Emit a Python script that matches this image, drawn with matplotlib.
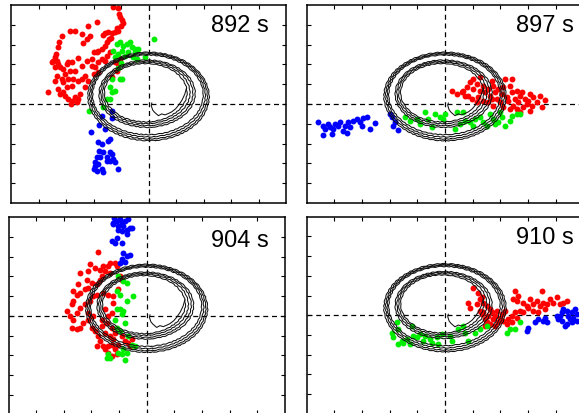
import numpy as np
import matplotlib.pyplot as plt
from matplotlib.patches import Ellipse

plt.rcParams['font.family'] = ['Liberation Sans', 'DejaVu Sans']

# snapshot times (s)
times = [892, 897, 904, 910]

# limit-cycle trajectory, one ellipse per loop: centre, width, height, tilt (deg)
loop_cx = [0.00, 0.00, -0.01, -0.02, -0.05, -0.06, -0.08, -0.10]
loop_cy = [0.38, 0.40, 0.43, 0.46, 0.52, 0.54, 0.56, 0.57]
loop_w = [4.41, 4.28, 4.15, 4.02, 3.50, 3.35, 3.18, 3.00]
loop_h = [4.47, 4.33, 4.18, 4.02, 3.40, 3.26, 3.10, 2.95]
loop_ang = [7, 6, 6, 5, 7, 7, 8, 9]
# first stretch of the trajectory, near the origin, running into the inner loop
start_x = [0.12, 0.10, 0.15, 0.22, 0.36, 0.48, 0.60, 0.72, 0.84, 0.98, 1.10, 1.22, 1.32, 1.38]
start_y = [0.05, -0.08, -0.30, -0.42, -0.59, -0.50, -0.55, -0.48, -0.40, -0.25, -0.05, 0.20, 0.50, 0.80]

# 892 s
red_892 = [(-1.30, 4.88), (-1.10, 4.85), (-1.07, 4.55), (-1.04, 4.38), (-0.95, 4.26), (-0.92, 4.09),
           (-1.00, 3.92), (-1.10, 3.70), (-1.16, 3.82), (-1.22, 3.62), (-1.34, 3.59), (-1.46, 3.62),
           (-1.58, 3.57), (-1.64, 3.48), (-1.36, 3.32), (-1.44, 3.28), (-1.52, 3.11), (-1.58, 2.95),
           (-1.70, 2.78), (-1.82, 2.69), (-1.88, 2.61), (-2.00, 2.61), (-2.19, 3.96), (-1.88, 4.16),
           (-2.13, 3.45), (-2.25, 3.28), (-2.37, 3.06), (-2.43, 3.54), (-2.67, 3.70), (-2.85, 3.67),
           (-3.16, 3.45), (-3.25, 3.11), (-3.30, 2.86), (-3.38, 2.53), (-3.40, 2.36), (-3.46, 2.19),
           (-3.52, 2.10), (-3.34, 2.19), (-3.28, 2.02), (-3.40, 1.85), (-3.22, 1.85), (-3.10, 1.77),
           (-2.98, 2.02), (-2.92, 2.14), (-2.79, 2.10), (-2.55, 2.31), (-2.43, 1.94), (-2.67, 1.68),
           (-2.85, 1.68), (-3.04, 1.52), (-3.16, 1.26), (-3.34, 1.43), (-3.40, 1.18), (-3.10, 1.09),
           (-2.92, 1.26), (-2.73, 1.26), (-2.58, 1.18), (-2.79, 0.93), (-2.98, 0.84), (-3.10, 0.59),
           (-3.22, 0.51), (-3.28, 0.76), (-3.64, 0.59), (-3.04, 0.42), (-2.92, 0.25), (-2.79, 0.17),
           (-2.67, 0.34), (-2.55, 0.25), (-2.49, 0.51), (-2.31, 0.84), (-2.19, 1.18), (-2.31, 1.43),
           (-2.00, 1.52), (-1.94, 1.85), (-2.07, 1.94), (-1.82, 2.10), (-1.70, 2.27), (-1.52, 2.44),
           (-1.40, 2.61), (-1.58, 2.19), (-1.82, 1.60), (-1.22, 2.10), (-1.16, 1.68), (-1.34, 1.35),
           (-1.10, 2.02), (-1.04, 2.27), (-2.07, 2.27), (-2.25, 2.19), (-2.43, 1.26), (-2.82, 0.00),
           (-2.60, 0.10)]
green_892 = [(0.21, 3.28), (-1.16, 3.03), (-1.04, 3.11), (-0.92, 2.95), (-0.79, 3.03), (-0.67, 3.11),
             (-0.61, 2.86), (-0.49, 2.78), (-0.73, 2.61), (-0.85, 2.44), (-0.98, 2.69), (-1.10, 2.53),
             (-0.55, 2.36), (-0.43, 2.27), (-1.28, 2.69), (-1.22, 2.36), (-0.98, 1.26), (-1.40, 0.84),
             (-1.34, 0.59), (-1.40, 0.25), (-1.04, 1.26), (-1.22, 0.67), (-1.52, 0.25), (-2.15, -0.34),
             (-1.64, -0.17), (-1.34, 1.26), (-0.37, 2.78), (-0.13, 2.36), (-0.49, 2.61), (-1.10, 1.80),
             (-1.00, 2.05)]
blue_892 = [(-1.34, -0.72), (-1.79, -1.06), (-1.58, -1.26), (-2.09, -1.43), (-1.82, -1.94), (-1.70, -2.02),
            (-1.46, -1.85), (-1.40, -1.77), (-1.79, -2.36), (-1.64, -2.44), (-1.40, -2.41), (-1.34, -2.53),
            (-1.52, -2.69), (-1.76, -2.69), (-1.88, -2.69), (-1.95, -2.95), (-1.82, -3.03), (-1.52, -2.86),
            (-1.40, -2.86), (-1.28, -2.78), (-1.22, -2.95), (-2.00, -3.28), (-1.88, -3.37), (-1.70, -3.28),
            (-1.64, -3.45), (-1.10, -3.28), (-1.95, -3.11), (-1.34, -0.34), (-1.70, -0.59)]

# 897 s
red_897 = [(0.24, 0.67), (0.42, 0.51), (0.60, 0.59), (0.78, 0.84), (0.84, 0.42), (0.90, 1.09),
           (1.02, 0.76), (1.14, 1.01), (1.20, 0.34), (1.26, 0.67), (1.38, 0.93), (1.44, 0.59),
           (1.56, 0.76), (1.62, 0.42), (1.68, 1.18), (1.74, 0.93), (1.81, 0.59), (1.87, 0.25),
           (1.93, 0.76), (1.99, 0.08), (2.05, 0.51), (2.11, 0.84), (2.23, 0.34), (2.29, 0.17),
           (2.35, 0.93), (2.41, 0.59), (2.47, -0.08), (2.53, 0.25), (2.59, 0.67), (2.65, 0.08),
           (2.71, 0.42), (2.77, 0.59), (2.83, -0.17), (2.89, 0.25), (2.95, 0.00), (3.01, 0.17),
           (3.07, 0.51), (3.13, -0.08), (3.19, 0.34), (3.31, 0.08), (3.43, 0.42), (3.49, -0.17),
           (3.61, 0.20), (0.72, 0.42), (0.96, 0.25), (1.14, 0.08), (1.38, 0.17), (1.56, 0.08),
           (1.74, -0.08), (2.11, -0.17), (2.35, -0.25), (2.59, -0.25), (2.71, -0.42), (3.07, -0.34),
           (2.41, 1.26), (2.17, 1.26), (1.02, 1.26), (1.26, 1.35), (0.66, 0.67), (1.68, 0.25)]
green_897 = [(-1.44, -0.67), (-1.26, -0.84), (-0.90, -1.01), (-0.72, -0.42), (-0.48, -1.18), (-0.36, -0.51),
             (-0.18, -0.67), (0.00, -0.51), (0.36, -1.26), (0.42, -0.42), (0.66, -0.42), (0.72, -0.84),
             (0.90, -0.93), (1.08, -0.76), (1.26, -0.67), (1.38, -0.93), (1.62, -0.51), (1.81, -1.01),
             (1.93, -0.93), (1.99, -0.42), (2.17, -1.09), (2.35, -0.84), (2.41, -0.59), (2.59, -0.51),
             (2.71, -0.51), (-1.02, -0.76), (-0.60, -0.76), (-0.06, -0.76), (0.54, -1.01), (1.50, -1.09),
             (1.74, -0.76), (2.05, -0.67), (1.02, -1.09)]
blue_897 = [(-4.57, -0.93), (-4.39, -1.09), (-4.33, -1.26), (-4.21, -1.01), (-4.15, -1.18), (-4.03, -1.26),
            (-3.97, -1.01), (-3.85, -1.09), (-3.79, -0.93), (-3.67, -1.35), (-3.61, -1.09), (-3.49, -0.93),
            (-3.43, -1.18), (-3.31, -0.84), (-3.19, -0.76), (-3.07, -0.93), (-3.01, -1.09), (-2.95, -0.72),
            (-2.83, -0.67), (-2.71, -1.26), (-2.53, -0.96), (-4.09, -1.52), (-4.39, -1.57), (-3.55, -1.46),
            (-1.99, -0.51), (-1.93, -0.67), (-1.81, -0.93), (-1.68, -1.30), (-1.87, -1.09)]

# 904 s
red_904 = [(-1.75, 3.23), (-2.05, 2.61), (-2.42, 2.18), (-2.11, 2.27), (-1.87, 2.44), (-1.69, 2.35),
           (-1.57, 2.52), (-1.51, 2.27), (-1.39, 2.52), (-1.33, 2.69), (-1.15, 2.69), (-1.09, 2.52),
           (-2.17, 1.84), (-2.48, 1.59), (-2.66, 1.25), (-2.54, 1.08), (-2.42, 1.17), (-2.23, 1.34),
           (-2.11, 1.42), (-1.99, 1.68), (-1.81, 1.59), (-1.69, 1.84), (-1.63, 2.01), (-1.33, 2.18),
           (-2.66, 0.74), (-2.72, 0.58), (-2.90, 0.24), (-2.78, -0.02), (-2.66, -0.19), (-2.54, 0.15),
           (-2.42, 0.41), (-2.23, 0.58), (-2.05, 0.74), (-1.93, 1.00), (-1.81, 1.08), (-1.57, 1.17),
           (-1.39, 1.08), (-1.21, 1.00), (-2.29, -0.36), (-2.42, -0.61), (-2.54, -0.69), (-2.72, -0.61),
           (-2.11, -0.19), (-1.99, -0.61), (-1.87, -0.78), (-1.75, -1.03), (-1.69, -1.29), (-1.81, -1.54),
           (-1.57, -1.54), (-1.51, -1.71), (-1.39, -1.54), (-1.27, -1.46), (-1.15, -1.71), (-1.03, -1.46),
           (-1.21, -1.20), (-1.33, -1.03), (-1.51, -0.86), (-1.63, -0.52), (-1.45, -0.36), (-1.27, -0.61),
           (-1.15, -0.86), (-0.91, -1.03), (-0.79, -1.29), (-0.66, -1.37), (-0.60, -1.54), (-0.54, -1.20),
           (-1.39, -1.88), (-1.27, -2.05), (-1.09, -1.96), (-1.63, -0.19), (-1.39, -0.02), (-1.27, 0.15),
           (-1.51, 0.32), (-1.03, 1.34), (-1.21, 0.66), (-0.97, 2.01), (-0.91, 1.84), (-1.93, -0.02),
           (-2.11, 0.15)]
green_904 = [(-1.03, 2.01), (-0.85, 1.76), (-0.72, 1.68), (-1.09, 1.25), (-0.97, 1.08), (-0.72, 0.74),
             (-0.48, 1.00), (-1.09, 0.32), (-0.97, 0.32), (-0.85, 0.24), (-0.91, 0.07), (-1.15, -0.19),
             (-1.09, -0.61), (-0.97, -0.78), (-0.79, -0.36), (-0.66, -1.03), (-0.54, -1.46), (-1.03, -1.88),
             (-0.91, -1.96), (-0.72, -1.88), (-1.39, -1.96), (-1.45, -2.13), (-1.33, -2.13), (-0.79, -2.22),
             (-0.42, -1.54), (-0.85, -1.71)]
blue_904 = [(-1.17, 4.97), (-1.09, 4.81), (-1.21, 4.64), (-1.03, 4.55), (-0.91, 4.72), (-0.79, 4.81),
            (-0.66, 4.89), (-0.54, 4.47), (-0.72, 4.38), (-0.85, 4.55), (-0.91, 4.30), (-1.03, 4.38),
            (-0.72, 4.13), (-0.60, 4.47), (-1.09, 3.96), (-1.27, 3.79), (-1.15, 3.71), (-0.91, 3.71),
            (-0.85, 3.20), (-0.72, 3.03), (-0.60, 3.11), (-0.91, 2.86), (-0.97, 2.69), (-0.79, 2.72),
            (-1.21, 4.72), (-0.97, 4.89)]

# 910 s
red_910 = [(1.02, 1.40), (1.20, 1.15), (1.32, 0.90), (0.84, 0.64), (0.90, 0.39), (1.14, 0.56),
           (1.26, 0.81), (1.38, 0.64), (1.50, 0.47), (1.62, 0.30), (1.56, -0.03), (1.44, -0.20),
           (1.50, -0.37), (1.68, 0.14), (1.74, -0.20), (1.81, -0.03), (1.87, 0.22), (1.93, -0.37),
           (1.99, -0.12), (2.05, 0.05), (2.11, -0.29), (1.38, 0.14), (1.26, 0.22), (1.32, 0.05),
           (1.62, -0.46), (1.81, -0.54), (1.44, -0.54), (2.53, 1.24), (2.65, 0.98), (2.47, 0.81),
           (2.59, 0.73), (2.83, 0.64), (2.95, 0.47), (3.07, 0.81), (3.19, 0.56), (3.31, 0.73),
           (3.43, 0.47), (3.49, 1.24), (3.61, 0.30), (3.67, 0.56), (3.79, 0.81), (3.91, 0.64),
           (4.03, 0.90), (4.15, 0.56), (4.27, 0.64), (4.39, 0.73), (2.71, 0.22), (2.53, 0.14),
           (2.41, -0.03), (2.83, 0.14), (3.01, 0.39), (3.19, 0.22), (3.37, 0.14), (3.55, 0.64),
           (2.23, -0.46), (2.41, -0.37), (2.59, -0.12), (2.17, 0.22), (2.29, -0.20)]
green_910 = [(-1.93, -0.88), (-1.87, -1.13), (-1.74, -0.37), (-1.68, -0.71), (-1.56, -1.30), (-1.50, -1.39),
             (-1.38, -1.22), (-1.20, -0.54), (-1.14, -1.05), (-1.02, -1.13), (-0.90, -0.96), (-0.78, -1.30),
             (-0.72, -1.05), (-0.54, -1.22), (-0.48, -1.39), (-0.30, -1.13), (-0.12, -0.96), (0.18, -1.05),
             (0.24, -1.30), (0.48, -0.71), (0.72, -0.88), (0.84, -1.30), (1.08, -0.88), (1.26, -0.71),
             (1.50, -0.54), (2.35, -0.71), (2.53, -0.71), (2.71, -0.37), (2.23, -0.88), (-1.68, -1.47),
             (-1.26, -1.47), (-0.24, -1.47), (0.66, -0.54)]
blue_910 = [(2.95, -0.80), (3.01, -0.63), (3.25, -0.37), (3.37, -0.20), (3.55, -0.29), (3.61, -0.12),
            (3.67, -0.37), (4.03, -0.03), (4.09, -0.20), (4.21, 0.14), (4.27, 0.30), (4.39, 0.22),
            (4.45, -0.03), (4.51, -0.20), (4.57, 0.14), (4.63, -0.12), (4.75, 0.05), (4.75, -0.29),
            (4.39, -0.46), (4.21, -0.29), (4.33, -0.54), (4.69, 0.30), (4.57, -0.37), (4.15, -0.03)]

reds = [red_892, red_897, red_904, red_910]
greens = [green_892, green_897, green_904, green_910]
blues = [blue_892, blue_897, blue_904, blue_910]

# label anchor per panel (data coords, left/baseline)
label_x = [2.27, 2.56, 2.33, 2.56]
label_y = [3.70, 3.70, 3.52, 3.69]

W, H = 579, 414
fig = plt.figure(figsize=(W / 100, H / 100), dpi=100)
# panel boxes in pixels: left, top, width, height
boxes = [(11, 6, 275, 198), (306.5, 6, 277, 198),
         (8.7, 218.3, 276, 197), (306.5, 217.7, 277, 197)]

for i, (l, t, w, h) in enumerate(boxes):
    ax = fig.add_axes([l / W, 1 - (t + h) / H, w / W, h / H])
    ax.set_xlim(-5, 5)
    ax.set_ylim(-5, 5)
    ax.set_xticks(np.arange(-4, 5))
    ax.set_yticks(np.arange(-4, 5))
    ax.set_xticklabels([])
    ax.set_yticklabels([])
    ax.tick_params(direction='in', top=True, right=True, length=3, width=0.8)
    for s in ax.spines.values():
        s.set_linewidth(1.1)

    ax.axhline(0, color='k', lw=0.9, ls=(0, (4, 3)), zorder=1)
    ax.axvline(0, color='k', lw=0.9, ls=(0, (4, 3)), zorder=1)

    for pts, c in [(reds[i], '#ff0000'), (greens[i], '#00ee00'), (blues[i], '#0000ff')]:
        p = np.array(pts)
        ax.scatter(p[:, 0], p[:, 1], s=18, color=c, linewidths=0, zorder=2)

    for cx, cy, ew, eh, a in zip(loop_cx, loop_cy, loop_w, loop_h, loop_ang):
        e = Ellipse((cx, cy), ew, eh, angle=a, fill=False, ec='#111111', lw=0.75, zorder=3)
        e.set_sketch_params(0.35, 6, 2)
        ax.add_patch(e)
    ax.plot(start_x, start_y, color='#111111', lw=0.75, zorder=3)

    ax.text(label_x[i], label_y[i], f'{times[i]} s', fontsize=17,
            ha='left', va='baseline', zorder=4)

fig.savefig('out.png', dpi=100)
